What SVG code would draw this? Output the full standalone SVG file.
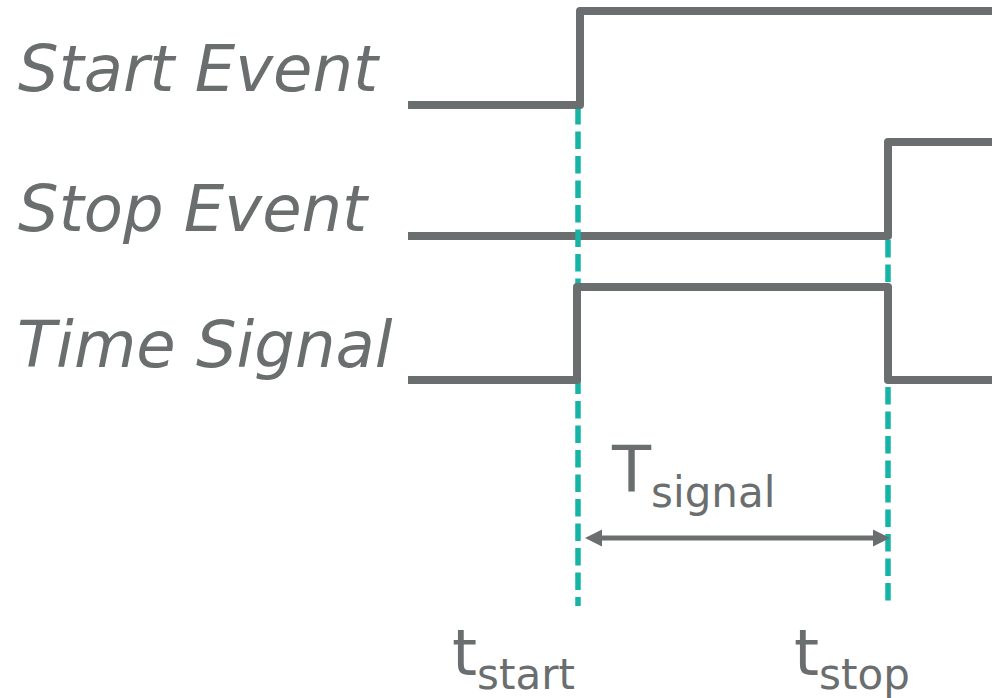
<svg xmlns="http://www.w3.org/2000/svg" width="992" height="698" viewBox="0 0 992 698">
  <style>
    .sig { fill: none; stroke: #6a6e6e; stroke-width: 8; stroke-linejoin: round; }
    .dash { fill: none; stroke: #15b4a7; stroke-width: 5.5; stroke-dasharray: 17.5 7; }
    .lbl { font-family: "DejaVu Sans", Verdana, sans-serif; font-style: italic; font-size: 64px; fill: #6a6e6e; }
    .tm { font-family: "DejaVu Sans", Verdana, sans-serif; fill: #6a6e6e; }
    .big { font-size: 64px; }
    .sub { font-size: 42px; }
    .arr { stroke: #6a6e6e; stroke-width: 5; fill: none; }
    .head { fill: #6a6e6e; }
  </style>

  <g id="label-start-event"><text class="lbl" x="18" y="91">Start Event</text></g>
  <g id="label-stop-event"><text class="lbl" x="18" y="231">Stop Event</text></g>
  <g id="label-time-signal"><text class="lbl" x="17" y="367">Time Signal</text></g>

  <g id="stop-event-signal"><path class="sig" d="M408,236 H888 V142 H992"/></g>

  <g id="connectors">
    <line class="dash" x1="578" y1="107" x2="578" y2="606"/>
    <line class="dash" x1="888" y1="240" x2="888" y2="607"/>
    <g id="t-signal-arrow">
      <line class="arr" x1="598" y1="538" x2="877" y2="538"/>
      <path class="head" d="M585,538 L602,529.5 L602,546.5 Z"/>
      <path class="head" d="M890,538 L873,529.5 L873,546.5 Z"/>
    </g>
  </g>

  <g id="start-event-signal"><path class="sig" d="M408,105 H580 V11 H992"/></g>
  <g id="time-signal"><path class="sig" d="M408,380 H577 V287 H888 V380 H992"/></g>

  <g id="label-t-signal"><text class="tm" x="612" y="492"><tspan class="big">T</tspan><tspan class="sub" dy="15">signal</tspan></text></g>
  <g id="label-t-start"><text class="tm" x="452" y="675"><tspan class="big">t</tspan><tspan class="sub" dy="14">start</tspan></text></g>
  <g id="label-t-stop"><text class="tm" x="794" y="675"><tspan class="big">t</tspan><tspan class="sub" dy="14">stop</tspan></text></g>
</svg>
